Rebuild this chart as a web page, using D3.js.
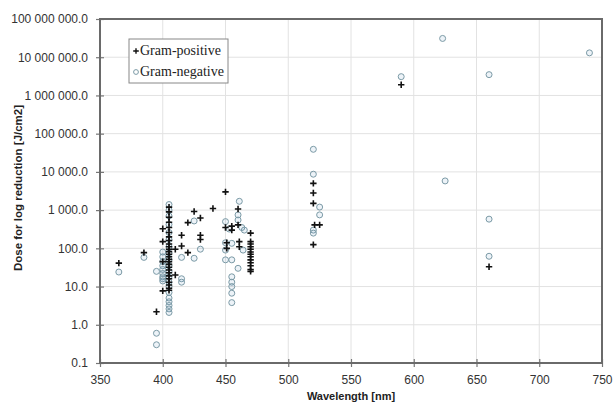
<!DOCTYPE html>
<html><head><meta charset="utf-8">
<script src="https://cdn.jsdelivr.net/npm/d3@7"></script>
<style>body{margin:0;background:#fff}svg{display:block}</style>
</head><body>
<svg id="c" width="614" height="404"></svg>
<script>
const xTicks = [350,400,450,500,550,600,650,700,750];
const yTicks = [0.1,1,10,100,1000,10000,100000,1000000,10000000,100000000];
const seriesNames = ["Gram-positive","Gram-negative"];
const gramPositive = [
 [365,41],[385,77],[395,2.2],[400,325],[400,7.7],[400,150],[400,45],
 [405,1200],[405,900],[405,650],[405,480],[405,350],[405,260],[405,200],[405,160],[405,130],[405,110],[405,95],[405,82],[405,70],[405,60],[405,52],[405,45],[405,38],[405,32],[405,27],[405,23],[405,19],[405,16],[405,13],[405,11],[405,9],[405,8],
 [410,95],[410,20],[415,220],[415,115],[420,470],[420,77],[425,920],[430,620],[430,220],[430,170],[440,1100],
 [450,3000],[450,350],[451,140],[451,100],[455,380],[455,300],[460,1070],[460,410],[461,150],[461,110],
 [470,250],[470,150],[470,130],[470,110],[470,95],[470,80],[470,70],[470,60],[470,50],[470,42],[470,35],[470,28],[470,25],
 [520,5000],[520,2800],[520,1500],[521,410],[525,410],[520,125],
 [590,1900000],[660,33]
];
const gramNegative = [
 [365,24],[385,58],[395,0.6],[395,0.3],[395,25],
 [400,80],[400,60],[400,45],[400,35],[400,28],[400,22],[400,18],[400,16],[400,14],
 [405,1400],[405,1000],[405,700],[405,420],[405,260],[405,170],[405,110],[405,75],[405,50],[405,35],[405,25],[405,18],[405,13],[405,10],[405,7],[405,5],[405,4],[405,3.2],[405,2.6],[405,2.1],
 [415,58],[415,16],[415,13],[425,520],[425,55],[430,95],
 [450,500],[450,140],[450,90],[450,50],[453,320],[455,135],[455,50],[455,18],[455,13],[455,10],[455,6.7],[455,3.8],
 [460,750],[460,550],[461,1700],[463,350],[465,300],[464,90],[460,30],
 [520,39000],[520,8700],[525,1200],[525,750],[520,300],[520,250],
 [590,3100000],[623,31000000],[625,5800],[660,3500000],[660,580],[660,62],[740,13000000]
];

const L=100,R=602,T=19,B=363;
const svg=d3.select("#c");
const x=d3.scaleLinear().domain([350,750]).range([L,R]);
const y=d3.scaleLog().domain([0.1,1e8]).range([B,T]);
const fmt=v=>{const s=d3.format(",.1f")(v);return s.replace(/,/g," ");};

// grid
svg.append("g").selectAll("line").data(xTicks.slice(1,-1)).join("line")
 .attr("x1",d=>x(d)).attr("x2",d=>x(d)).attr("y1",T).attr("y2",B)
 .attr("stroke","#e2e2e2").attr("stroke-width",1);
svg.append("g").selectAll("line").data(yTicks.slice(1,-1)).join("line")
 .attr("x1",L).attr("x2",R).attr("y1",d=>y(d)).attr("y2",d=>y(d))
 .attr("stroke","#e2e2e2").attr("stroke-width",1);

// axes
const ya=d3.axisLeft(y).tickValues(yTicks).tickFormat(fmt).tickSize(4).tickPadding(8);
const yg=svg.append("g").attr("transform",`translate(${L},0)`).call(ya);
const xa=d3.axisBottom(x).tickValues(xTicks).tickSize(4).tickPadding(8);
const xg=svg.append("g").attr("transform",`translate(0,${B})`).call(xa);
[yg,xg].forEach(g=>{
 g.select(".domain").remove();
 g.selectAll("line").attr("stroke","#777").attr("stroke-width",1.2);
 g.selectAll("text").attr("font-family","Liberation Sans, Arial, sans-serif").attr("font-size",12).attr("fill","#333");
});
xg.selectAll("line").attr("y1",-4);
yg.selectAll("line").attr("x1",4).attr("x2",-4);
// frame
svg.append("rect").attr("x",L).attr("y",T).attr("width",R-L).attr("height",B-T)
 .attr("fill","none").attr("stroke","#6a6a6a").attr("stroke-width",2);

// markers
const plus=(g,cx,cy,s,w)=>g.append("path").attr("d",`M${cx-s},${cy}H${cx+s}M${cx},${cy-s}V${cy+s}`)
 .attr("stroke","#111").attr("stroke-width",w);
const gn=svg.append("g");
gn.selectAll("circle").data(gramNegative).join("circle")
 .attr("cx",d=>x(d[0])).attr("cy",d=>y(d[1])).attr("r",3)
 .attr("fill","rgba(80,140,190,0.10)").attr("stroke","#7b9aa6").attr("stroke-width",1);
const gp=svg.append("g");
gramPositive.forEach(d=>plus(gp,x(d[0]),y(d[1]),3.2,1.6));

// legend
const lg=svg.append("g");
lg.append("rect").attr("x",129).attr("y",39).attr("width",99).attr("height",44)
 .attr("fill","#fff").attr("stroke","#888").attr("stroke-width",1);
plus(lg,136,51,2.8,1.4);
lg.append("circle").attr("cx",136).attr("cy",72).attr("r",2.4).attr("fill","none").attr("stroke","#7b9aa6");
lg.selectAll("text").data(seriesNames).join("text")
 .attr("x",140).attr("y",(d,i)=>55+i*21).text(d=>d)
 .attr("font-family","Liberation Serif, Times New Roman, serif").attr("font-size",14).attr("fill","#222");

// axis titles
svg.append("text").attr("x",(L+R)/2).attr("y",400).attr("text-anchor","middle")
 .attr("font-family","Liberation Sans, Arial, sans-serif").attr("font-weight","bold").attr("font-size",11).attr("fill","#222")
 .text("Wavelength [nm]");
svg.append("text").attr("transform","translate(22,188) rotate(-90)").attr("text-anchor","middle")
 .attr("font-family","Liberation Sans, Arial, sans-serif").attr("font-weight","bold").attr("font-size",11.5).attr("fill","#222")
 .text("Dose for log reduction [J/cm2]");
</script>
</body></html>
